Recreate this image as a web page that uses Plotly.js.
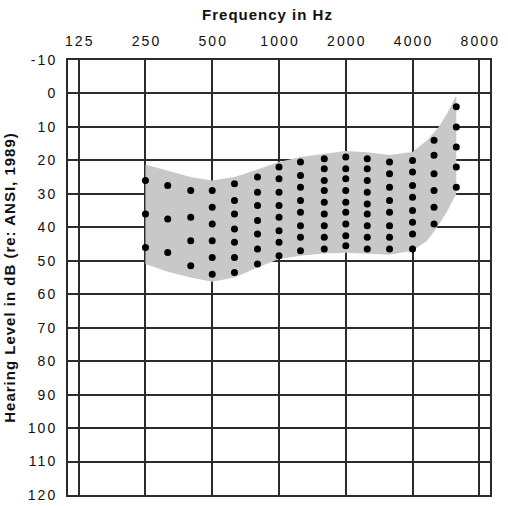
<!DOCTYPE html>
<html>
<head>
<meta charset="utf-8">
<script src="https://cdn.plot.ly/plotly-3.0.1.min.js"></script>
<style>
  html, body { margin: 0; padding: 0; background: #ffffff; }
  #chart { width: 508px; height: 506px; }
  /* slightly spaced bold titles */
  .gtitle, .g-ytitle text { letter-spacing: 1px; }
</style>
</head>
<body>
<div id="chart"></div>
<script>
// Octave frequencies across the top of the audiogram
const octaveFreqs = [125, 250, 500, 1000, 2000, 4000, 8000];
const octaveLabels = ['125', '250', '500', '1000', '2000', '4000', '8000'];

// Hearing level ticks (dB HL), increasing downward
const levelTicks = [-10, 0, 10, 20, 30, 40, 50, 60, 70, 80, 90, 100, 110, 120];
const levelLabels = ['-10', '0', '10', '20', '30', '40', '50', '60', '70', '80', '90', '100', '110', '120'];

// Outline of the speech area: upper edge left to right ...
const bandTopFreqs  = [250, 315, 400, 500, 630, 800, 1000, 1250, 1600, 2000, 2500, 3150, 4000, 4650, 5250, 5730, 6300];
const bandTopLevels = [21.2, 23, 25, 26, 25, 22.7, 20.5, 19, 18, 17.2, 17.6, 18.4, 17.5, 14, 10, 6, 0.5];
// ... and lower edge right to left
const bandBottomFreqs  = [6300, 5700, 5160, 4650, 4000, 3150, 2500, 2000, 1600, 1250, 1000, 800, 630, 500, 400, 315, 250];
const bandBottomLevels = [30, 35.5, 40, 44, 47, 48.2, 48, 47.6, 47.8, 48.5, 49.5, 52, 55, 56.3, 55, 53.3, 51];

// Speech-importance dots, one column per third-octave band
const dotFreqs = [250, 315, 400, 500, 630, 800, 1000, 1250, 1600, 2000, 2500, 3150, 4000, 5000, 6300];
const dotLevels = [
  [26, 36, 46],
  [27.5, 37.5, 47.5],
  [29, 37, 44, 51.5],
  [29, 34, 39, 44, 49, 54],
  [27, 32, 36, 40.5, 44.5, 49, 53.5],
  [25, 29.5, 33.5, 38, 42, 46.5, 51],
  [22, 25.5, 29.5, 33.5, 37, 41, 44.5, 48.5],
  [20.5, 24.5, 28, 32, 35.5, 39.5, 43, 47],
  [19.5, 22.5, 26, 29, 32.5, 36, 39.5, 43, 46.5],
  [19, 22.5, 25.5, 29, 32.5, 35.5, 39, 42.5, 45.5],
  [19.5, 22.5, 26, 29.5, 33, 36, 39.5, 43, 46.5],
  [20.5, 24, 28, 32, 35.5, 39.5, 43, 46.5],
  [20, 23.5, 27.5, 31, 35, 38.5, 42, 46.5],
  [14, 18.5, 24, 29, 34, 39],
  [4, 10, 16, 22, 28]
];

const FONT = 'Liberation Sans, Arial, Helvetica, sans-serif';
const INK = '#2b2b2b';
const DIGIT_GAP = 2.1; // extra px between characters of the tick labels

const dotX = [];
const dotY = [];
dotFreqs.forEach(function (f, i) {
  dotLevels[i].forEach(function (lv) { dotX.push(f); dotY.push(lv); });
});

const band = {
  type: 'scatter',
  mode: 'lines',
  x: bandTopFreqs.concat(bandBottomFreqs),
  y: bandTopLevels.concat(bandBottomLevels),
  fill: 'toself',
  fillcolor: '#c8c8c8',
  line: { width: 0, color: '#c8c8c8' },
  hoverinfo: 'skip'
};

const dots = {
  type: 'scatter',
  mode: 'markers',
  x: dotX,
  y: dotY,
  marker: { size: 7, color: '#000000' },
  hoverinfo: 'x+y'
};

const axisCommon = {
  showgrid: true,
  gridcolor: INK,
  gridwidth: 2,
  showline: true,
  mirror: true,
  linecolor: INK,
  linewidth: 2,
  zeroline: false,
  ticks: 'outside',
  tickcolor: 'rgba(0,0,0,0)',
  tickfont: { family: FONT, size: 14, color: '#111111' },
  fixedrange: true
};

const layout = {
  width: 508,
  height: 506,
  margin: { l: 68, r: 18, t: 60, b: 11 },
  paper_bgcolor: '#ffffff',
  plot_bgcolor: '#ffffff',
  showlegend: false,
  font: { family: FONT, color: '#111111' },
  title: {
    text: 'Frequency in Hz',
    font: { family: FONT, size: 15, weight: 'bold', color: '#111111' },
    xref: 'container', x: 0.5266, xanchor: 'center',
    yref: 'container', y: 0.982, yanchor: 'top'
  },
  xaxis: Object.assign({}, axisCommon, {
    type: 'log',
    side: 'top',
    range: [2.0487, 3.9513],
    tickmode: 'array',
    tickvals: octaveFreqs,
    ticktext: octaveLabels,
    ticklen: 6
  }),
  yaxis: Object.assign({}, axisCommon, {
    range: [120, -10],
    tickmode: 'array',
    tickvals: levelTicks,
    ticktext: levelLabels,
    ticklen: 8,
    title: {
      text: 'Hearing Level in dB (re: ANSI, 1989)',
      font: { family: FONT, size: 15, weight: 'bold', color: '#111111' },
      standoff: 13
    }
  })
};

// Open up the tick label digits a little (spread via textLength)
function spreadTickLabels(gd) {
  gd.querySelectorAll('.xtick text, .ytick text').forEach(function (t) {
    const n = t.textContent.length;
    if (n < 2) return;
    const w = t.getComputedTextLength();
    t.setAttribute('textLength', (w + (n - 1) * DIGIT_GAP).toFixed(2));
    t.setAttribute('lengthAdjust', 'spacing');
  });
}

Plotly.newPlot('chart', [band, dots], layout, { displayModeBar: false, staticPlot: true })
  .then(spreadTickLabels);
</script>
</body>
</html>
